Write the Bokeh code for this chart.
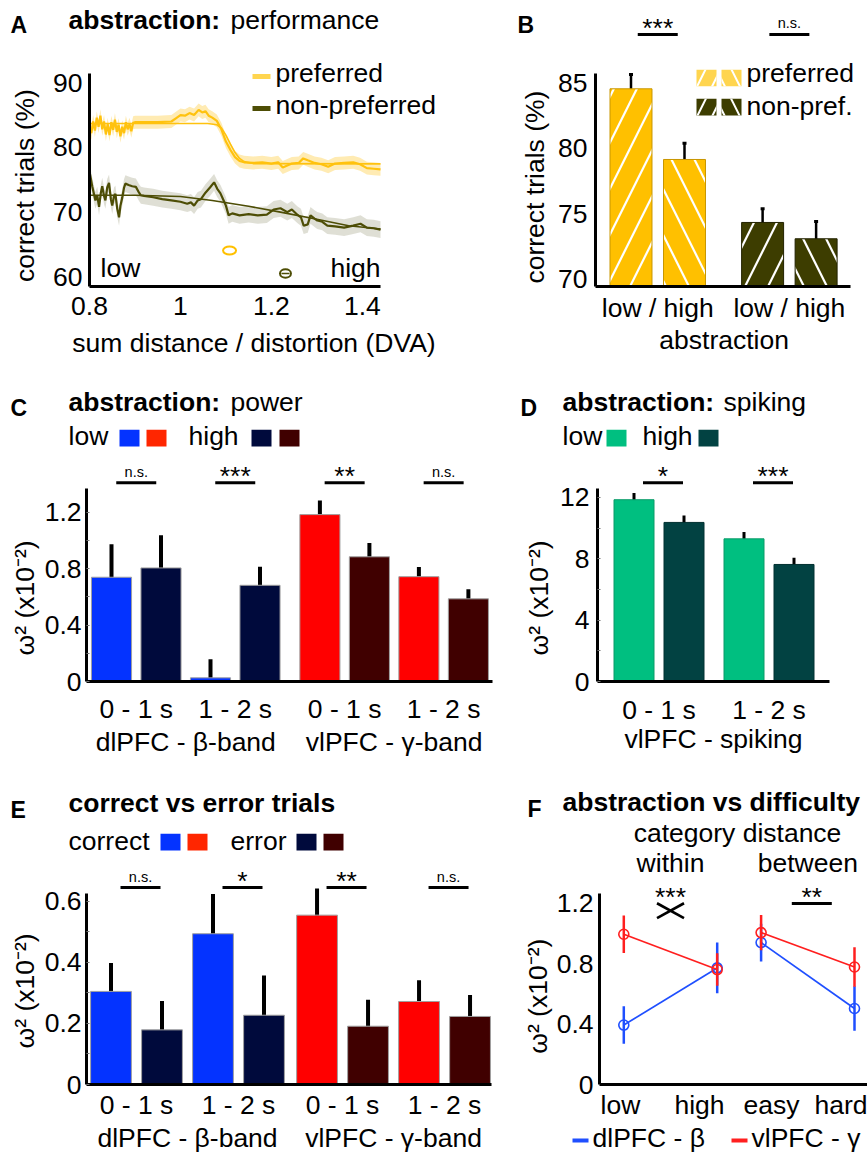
import numpy as np
from bokeh.plotting import figure
from bokeh.models import (Label, FixedTicker, NumeralTickFormatter, Range1d,
                          Whisker, TeeHead, ColumnDataSource, CustomJSTickFormatter)
from bokeh.layouts import column, row
from bokeh.embed import file_html
from bokeh.resources import INLINE

FONT = "Liberation Sans"
FS = 26.5
FS_NS = 14.5
FS_LETTER = 23
NB = "\u00a0"

# ======================= DATA =======================
# ---- A: performance vs sum distance / distortion (DVA)
pref_x = [0.800, 0.804, 0.808, 0.812, 0.816, 0.820, 0.824, 0.828, 0.832, 0.836,
          0.840, 0.844, 0.848, 0.852, 0.856, 0.860, 0.864, 0.868, 0.872, 0.876,
          0.880, 0.884, 0.888, 0.892, 0.896, 0.900, 0.920, 0.950, 0.980, 0.990,
          1.000, 1.010, 1.020, 1.030, 1.040, 1.048, 1.055, 1.062, 1.070, 1.080,
          1.090, 1.100, 1.110, 1.120, 1.130, 1.140, 1.160, 1.180, 1.200, 1.215,
          1.225, 1.235, 1.245, 1.260, 1.270, 1.280, 1.295, 1.310, 1.325, 1.340,
          1.360, 1.380, 1.395, 1.410, 1.425, 1.440]
pref_y = [83.0, 82.2, 84.0, 82.6, 84.6, 83.2, 84.9, 82.8, 84.0, 82.0,
          83.6, 81.9, 83.9, 82.7, 84.3, 82.4, 83.5, 81.7, 83.2, 82.2,
          83.9, 82.8, 83.6, 82.5, 83.8, 83.9, 83.9, 83.9, 84.0, 84.5,
          85.0, 84.9, 85.3, 85.0, 85.8, 85.4, 85.6, 84.9, 84.6, 84.1,
          82.8, 80.9, 79.6, 78.5, 77.9, 77.7, 77.6, 77.7, 77.5, 77.7,
          76.9, 77.2, 77.5, 77.6, 78.3, 78.0, 77.6, 77.4, 77.0, 77.5,
          77.6, 77.7, 77.4, 76.8, 76.7, 76.6]
pref_fit_x = [0.80, 1.06, 1.08, 1.09, 1.10, 1.11, 1.12, 1.13, 1.14, 1.16, 1.44]
pref_fit_y = [83.7, 83.7, 83.5, 83.0, 81.9, 80.5, 79.2, 78.3, 77.8, 77.5, 77.45]

nonpref_x = [0.800, 0.806, 0.813, 0.817, 0.821, 0.825, 0.828, 0.832, 0.835, 0.839,
             0.843, 0.847, 0.850, 0.854, 0.857, 0.861, 0.865, 0.868, 0.872, 0.876,
             0.879, 0.886, 0.894, 0.902, 0.909, 0.913, 0.920, 0.940, 0.960, 0.980,
             1.000, 1.015, 1.023, 1.030, 1.038, 1.045, 1.055, 1.065, 1.074, 1.081,
             1.088, 1.095, 1.100, 1.106, 1.114, 1.130, 1.150, 1.170, 1.190, 1.205,
             1.220, 1.235, 1.245, 1.257, 1.265, 1.271, 1.280, 1.286, 1.295, 1.301,
             1.312, 1.323, 1.340, 1.360, 1.380, 1.396, 1.410, 1.425, 1.440]
nonpref_y = [76.3, 74.0, 71.8, 72.6, 70.8, 73.0, 74.0, 72.5, 71.8, 73.8,
             74.5, 72.0, 71.0, 72.5, 72.8, 70.5, 69.2, 71.0, 72.2, 73.8,
             74.4, 74.2, 74.0, 73.9, 73.0, 72.6, 72.5, 72.3, 72.0, 71.8,
             71.6, 71.3, 71.5, 71.0, 71.8, 72.0, 73.0, 73.8, 74.6, 73.6,
             72.9, 71.8, 71.0, 69.5, 69.8, 69.5, 69.7, 69.5, 69.6, 70.4,
             70.6, 70.0, 70.4, 69.6, 69.2, 67.9, 68.1, 69.5, 69.0, 68.7,
             68.5, 67.9, 67.8, 67.6, 67.9, 68.2, 67.6, 67.5, 67.3]
nonpref_fit_x = [0.80, 0.90, 1.00, 1.07, 1.15, 1.22, 1.30, 1.37, 1.44]
nonpref_fit_y = [72.6, 72.6, 72.4, 71.8, 70.9, 70.0, 68.9, 67.9, 67.4]
pref_band = 1.0
nonpref_band = 1.3
pref_midpoint = 1.108
nonpref_midpoint = 1.231
a_xticks = [0.8, 1.0, 1.2, 1.4]
a_yticks = [60, 70, 80, 90]

# ---- B: correct trials per abstraction level
b_groups = ["preferred", "non-pref."]
b_levels = ["low", "high"]
b_pref = [84.57, 79.15]
b_pref_err = [1.09, 1.25]
b_nonpref = [74.32, 73.07]
b_nonpref_err = [1.06, 1.32]
b_sig = ["***", "n.s."]
b_yticks = [70, 75, 80, 85]

# ---- C: abstraction, LFP power
c_windows = ["0 - 1 s", "1 - 2 s", "0 - 1 s", "1 - 2 s"]
c_regions = ["dlPFC - β-band", "vlPFC - γ-band"]
c_low = [0.739, 0.026, 1.183, 0.743]
c_low_err = [0.233, 0.132, 0.100, 0.068]
c_high = [0.805, 0.682, 0.884, 0.586]
c_high_err = [0.232, 0.132, 0.098, 0.068]
c_sig = ["n.s.", "***", "**", "n.s."]
c_yticks = [0, 0.4, 0.8, 1.2]
c_yminor = [0.2, 0.6, 1.0]

# ---- D: abstraction, spiking
d_windows = ["0 - 1 s", "1 - 2 s"]
d_region = "vlPFC - spiking"
d_low = [11.85, 9.30]
d_low_err = [0.43, 0.44]
d_high = [10.37, 7.63]
d_high_err = [0.45, 0.44]
d_sig = ["*", "***"]
d_yticks = [0, 4, 8, 12]
d_yminor = [2, 6, 10]

# ---- E: correct vs error trials
e_windows = ["0 - 1 s", "1 - 2 s", "0 - 1 s", "1 - 2 s"]
e_regions = ["dlPFC - β-band", "vlPFC - γ-band"]
e_correct = [0.305, 0.494, 0.555, 0.272]
e_correct_err = [0.093, 0.130, 0.087, 0.070]
e_error = [0.179, 0.227, 0.191, 0.223]
e_error_err = [0.095, 0.130, 0.087, 0.070]
e_sig = ["n.s.", "*", "**", "n.s."]
e_yticks = [0, 0.2, 0.4, 0.6]
e_yminor = [0.1, 0.3, 0.5]

# ---- F: abstraction vs difficulty
f_conditions = ["low", "high", "easy", "hard"]
f_dl = [0.394, 0.773, 0.941, 0.504]
f_dl_err = [0.124, 0.168, 0.125, 0.148]
f_vl = [0.996, 0.762, 1.007, 0.779]
f_vl_err = [0.124, 0.108, 0.117, 0.131]
f_sig = ["***", "**"]
f_yticks = [0, 0.4, 0.8, 1.2]

# ======================= STYLE =======================
YEL = "#FFC000"
YEL_LINE = "#FFC20E"
YEL_LEG = "#FFD54F"
YEL_BAND = "#FFEBB3"
OLV = "#3D3D00"
OLV_LINE = "#4D4D05"
OLV_BAND = "#DCDCD0"
BLUE = "#0433FF"
NAVY = "#000A3C"
RED = "#FF0000"
RED_LEG = "#FF2600"
DRED = "#400000"
GREEN = "#00BF80"
TEAL = "#024242"
F_BLUE = "#1F4FFF"
F_RED = "#FF1F1F"
YLAB = "ω\u00b2 (x10\u207b\u00b2)"


def px(v):
    return f"{v}px"


def no_align(fig):
    try:
        fig.frame_align = False
    except AttributeError:
        pass


class Panel:
    """Geometry in page pixels; xref / yref = (value, pixel, pixels per unit)."""

    def __init__(self, box, frame, xref, yref, header=None, footer=None):
        self.box, self.frame = box, frame
        self.hb, self.fb = header, footer
        self.xv0, self.xp0, self.kx = xref
        self.yv0, self.yp0, self.ky = yref
        l, t, r, b = box
        fl, ftop, fr, fbot = frame
        mt = header if header is not None else t
        mb = footer if footer is not None else b
        p = figure(width=r - l, height=mb - mt,
                   x_range=Range1d(self.X(fl), self.X(fr)),
                   y_range=Range1d(self.Y(fbot), self.Y(ftop)),
                   output_backend="svg", toolbar_location=None, title=None,
                   min_border_left=fl - l, min_border_right=r - fr,
                   min_border_top=ftop - mt, min_border_bottom=mb - fbot)
        no_align(p)
        p.outline_line_color = None
        p.xgrid.visible = False
        p.ygrid.visible = False
        p.background_fill_color = "white"
        p.border_fill_color = "white"
        for ax in (p.xaxis[0], p.yaxis[0]):
            ax.axis_line_width = 3
            ax.axis_line_color = "black"
            ax.major_tick_in = 0
            ax.major_tick_out = 0
            ax.minor_tick_in = 0
            ax.minor_tick_out = 0
            ax.major_tick_line_color = "#777777"
            ax.minor_tick_line_color = "#777777"
            ax.major_label_text_font = FONT
            ax.major_label_text_font_size = px(FS)
            ax.major_label_text_color = "black"
            ax.axis_label_text_font = FONT
            ax.axis_label_text_font_size = px(FS)
            ax.axis_label_text_font_style = "normal"
            ax.axis_label_text_color = "black"
        self.p = p
        self.h = self._strip(t, header) if header is not None else None
        self.f = self._strip(footer, b) if footer is not None else None

    def _strip(self, top, bottom):
        l, _, r, _ = self.box
        s = figure(width=r - l, height=bottom - top,
                   x_range=Range1d(self.X(l), self.X(r)),
                   y_range=Range1d(self.Y(bottom), self.Y(top)),
                   x_axis_type=None, y_axis_type=None,
                   output_backend="svg", toolbar_location=None, title=None,
                   min_border_left=0, min_border_right=0, min_border_top=0, min_border_bottom=0)
        no_align(s)
        s.outline_line_color = None
        s.background_fill_color = "white"
        s.border_fill_color = "white"
        return s

    def X(self, v):
        return self.xv0 + (v - self.xp0) / self.kx

    def Y(self, v):
        return self.yv0 - (v - self.yp0) / self.ky

    def DX(self, n):
        return n / self.kx

    def fig_for(self, py):
        if self.h is not None and py < self.hb:
            return self.h
        if self.f is not None and py > self.fb:
            return self.f
        return self.p

    def label(self, x, py, s, size=FS, bold=False, align="left", color="black"):
        y_draw = py - 0.333 * size
        fig = self.fig_for(py - 0.35 * size)
        fig.add_layout(Label(x=x, y=self.Y(y_draw), text=s, text_font=FONT, text_font_size=px(size),
                             text_font_style="bold" if bold else "normal",
                             text_align=align, text_baseline="alphabetic", text_color=color))

    def text(self, pxx, py, s, **kw):
        self.label(self.X(pxx), py, s, **kw)

    def swatches(self, lefts, top, bottom, colors, width=20, **kw):
        self.fig_for(top).quad(left=[self.X(l) for l in lefts], right=[self.X(l + width) for l in lefts],
                               top=[self.Y(top)] * len(lefts), bottom=[self.Y(bottom)] * len(lefts),
                               fill_color=colors, line_color=None, **kw)

    def sig(self, centers, labels, bar_py, star_base, ns_base, offset=0, half=20):
        cs = [c + self.DX(offset) for c in centers]
        self.fig_for(bar_py).segment(x0=[c - self.DX(half) for c in cs], y0=[self.Y(bar_py)] * len(cs),
                                     x1=[c + self.DX(half) for c in cs], y1=[self.Y(bar_py)] * len(cs),
                                     line_color="black", line_width=3)
        for c, s in zip(cs, labels):
            if s.startswith("*"):
                self.label(c, star_base, s, size=FS, align="center")
            else:
                self.label(c, ns_base, s, size=FS_NS, align="center")

    def layout(self):
        return column([f for f in (self.h, self.p, self.f) if f is not None])


def whiskers(p, x, v, e, width, color="black", heads=False):
    src = ColumnDataSource(dict(x=x, lo=[a - b for a, b in zip(v, e)], hi=[a + b for a, b in zip(v, e)]))
    if heads:
        kw = dict(upper_head=TeeHead(size=4, line_width=3, line_color=color),
                  lower_head=TeeHead(size=4, line_width=3, line_color=color))
    else:
        kw = dict(upper_head=None, lower_head=None)
    p.add_layout(Whisker(base="x", lower="lo", upper="hi", source=src, dimension="height",
                         line_color=color, line_width=width, **kw))


def labels_formatter(labels):
    return CustomJSTickFormatter(args=dict(labels=labels), code="return labels[index] ?? '';")


# ======================= PANEL A =======================
PA = Panel(box=(0, 0, 440, 365), frame=(89, 40, 440, 286), header=40, footer=327,
           xref=(0.8, 89, 454.7), yref=(75.0, 179.25, 6.47))
pA = PA.p
pA.xaxis.ticker = FixedTicker(ticks=a_xticks)
pA.xaxis.formatter = NumeralTickFormatter(format="0.[0]")
pA.xaxis.bounds = (PA.X(89), PA.X(380))
pA.yaxis.ticker = FixedTicker(ticks=a_yticks)
pA.yaxis.bounds = (PA.Y(286), PA.Y(73))
pA.xaxis.major_label_standoff = 10
pA.yaxis.major_label_standoff = 7
pA.yaxis.axis_label = "correct trials (%)" + NB * 6
pA.yaxis.axis_label_standoff = 10

pA.varea(x=pref_x, y1=[v - pref_band for v in pref_y], y2=[v + pref_band for v in pref_y],
         fill_color=YEL_BAND)
pA.varea(x=nonpref_x, y1=[v - nonpref_band for v in nonpref_y],
         y2=[v + nonpref_band for v in nonpref_y], fill_color=OLV_BAND, fill_alpha=0.9)
pA.line(pref_x, pref_y, line_color=YEL_LINE, line_width=2.2)
pA.line(pref_fit_x, pref_fit_y, line_color=YEL_LINE, line_width=1.6)
pA.line(nonpref_x, nonpref_y, line_color=OLV_LINE, line_width=2.2)
pA.line(nonpref_fit_x, nonpref_fit_y, line_color=OLV_LINE, line_width=1.6)
pA.ellipse(x=[pref_midpoint], y=[PA.Y(250)], width=PA.DX(13), height=8 / PA.ky,
           fill_color=None, line_color=YEL, line_width=2)
pA.ellipse(x=[nonpref_midpoint], y=[PA.Y(273)], width=PA.DX(11), height=8.5 / PA.ky,
           fill_color=None, line_color=OLV_LINE, line_width=2)
pA.segment(x0=[nonpref_midpoint - PA.DX(4)], y0=[PA.Y(273)], x1=[nonpref_midpoint + PA.DX(4)],
           y1=[PA.Y(273)], line_color=OLV_LINE, line_width=1.6)
pA.segment(x0=[PA.X(252)] * 2, y0=[PA.Y(76), PA.Y(108)], x1=[PA.X(270)] * 2,
           y1=[PA.Y(76), PA.Y(108)], line_color=[YEL_LEG, OLV_LINE], line_width=5)
PA.text(275, 81.7, "preferred")
PA.text(275, 113, "non-preferred")
PA.text(100, 276.7, "low")
PA.text(380, 276.7, "high", align="right")
PA.text(253.5, 351.5, "sum distance / distortion (DVA)", align="center")
PA.text(10, 31.7, "A", size=FS_LETTER, bold=True)
PA.text(68, 28.3, "abstraction:", bold=True)
PA.text(230, 28.3, "performance")

# ======================= PANEL B =======================
b_gap = 2.46
PB = Panel(box=(440, 0, 867, 365), frame=(595, 43, 867, 286), header=43,
           xref=(0.0, 630.5, 53.5), yref=(77.5, 180.5, 13.04))
pB = PB.p
b_x = [b_gap * g + c for g in range(len(b_groups)) for c in range(len(b_levels))]
b_vals = b_pref + b_nonpref
b_errs = b_pref_err + b_nonpref_err
b_centers = [round(b_gap * g + 0.5, 3) for g in range(len(b_groups))]
b_base = PB.Y(286)
pB.vbar(x=b_x, top=b_vals, bottom=b_base, width=0.785,
        fill_color=[YEL, YEL, OLV, OLV], line_color=["#C89600", "#C89600", "#222200", "#222200"],
        line_width=1, hatch_pattern=["/", "\\", "/", "\\"], hatch_color="white",
        hatch_weight=2.2, hatch_scale=46)
whiskers(pB, b_x, b_vals, b_errs, 2.5, heads=True)
pB.xaxis.ticker = FixedTicker(ticks=b_centers)
pB.xaxis.formatter = labels_formatter(["low / high"] * len(b_groups))
pB.xaxis.bounds = (PB.X(595), PB.X(850))
pB.xaxis.major_label_standoff = 6
pB.xaxis.axis_label = "abstraction" + NB * 2
pB.xaxis.axis_label_standoff = -1
pB.yaxis.ticker = FixedTicker(ticks=b_yticks)
pB.yaxis.bounds = (PB.Y(286), PB.Y(73))
pB.yaxis.major_label_standoff = 8
pB.yaxis.axis_label = "correct trials (%)" + NB * 6
pB.yaxis.axis_label_standoff = 5
PB.sig(b_centers, b_sig, bar_py=34, star_base=36.3, ns_base=27.8)
PB.swatches([696, 721], 69.3, 85.7, [YEL_LEG, YEL_LEG], hatch_pattern=["/", "\\"],
            hatch_color="white", hatch_weight=2, hatch_scale=30)
PB.swatches([696, 721], 98.3, 115, [OLV, OLV], hatch_pattern=["/", "\\"],
            hatch_color="white", hatch_weight=2, hatch_scale=30)
PB.text(746, 81.7, b_groups[0])
PB.text(746, 114, b_groups[1])
PB.text(517, 31.7, "B", size=FS_LETTER, bold=True)

# ======================= PANEL C =======================
c_gap = 0.21
PC = Panel(box=(0, 365, 505, 765), frame=(86, 455, 492, 682), header=455, footer=726,
           xref=(0.0, 111, 49.5), yref=(0.0, 682, 141.7))
pC = PC.p
c_xl = [round(2 * k + c_gap * (k // 2), 3) for k in range(4)]
c_xh = [round(x + 1, 3) for x in c_xl]
c_centers = [round(x + 0.5, 3) for x in c_xl]
pC.vbar(x=c_xl, top=c_low, bottom=0, width=0.81, fill_color=[BLUE, BLUE, RED, RED],
        line_color="#A0A0A0", line_width=1)
pC.vbar(x=c_xh, top=c_high, bottom=0, width=0.81, fill_color=[NAVY, NAVY, DRED, DRED],
        line_color="#A0A0A0", line_width=1)
whiskers(pC, c_xl, c_low, c_low_err, 4)
whiskers(pC, c_xh, c_high, c_high_err, 4)
pC.xaxis.ticker = FixedTicker(ticks=c_centers)
pC.xaxis.formatter = labels_formatter(c_windows)
pC.xaxis.major_label_standoff = 12
pC.yaxis.ticker = FixedTicker(ticks=c_yticks, minor_ticks=c_yminor)
pC.yaxis.formatter = NumeralTickFormatter(format="0.[0]")
pC.yaxis.bounds = (0, PC.Y(488))
pC.yaxis.major_tick_in = 3
pC.yaxis.minor_tick_in = 3
pC.yaxis.major_label_standoff = 5
pC.yaxis.axis_label = YLAB + NB * 8
pC.yaxis.axis_label_standoff = 2
for r, name in enumerate(c_regions):
    PC.label((c_xl[2 * r] + c_xh[2 * r + 1]) / 2, 750.5, name, align="center")
PC.sig(c_centers, c_sig, bar_py=482.3, star_base=484.3, ns_base=476.3)
PC.swatches([119, 146, 251, 279], 429.3, 446, [BLUE, RED_LEG, NAVY, DRED])
PC.text(68, 444, "low")
PC.text(188, 444, "high")
PC.text(10, 415, "C", size=FS_LETTER, bold=True)
PC.text(68, 410, "abstraction:", bold=True)
PC.text(230, 410, "power")

# ======================= PANEL D =======================
d_gap = 2.2
PD = Panel(box=(505, 365, 867, 765), frame=(597, 455, 829, 681), header=455,
           xref=(0.0, 633.5, 50), yref=(0.0, 681, 15.34))
pD = PD.p
d_xl = [round(d_gap * k, 3) for k in range(len(d_windows))]
d_xh = [round(x + 1, 3) for x in d_xl]
d_centers = [round(x + 0.5, 3) for x in d_xl]
pD.vbar(x=d_xl, top=d_low, bottom=0, width=0.8, fill_color=GREEN, line_color="#0A9A68", line_width=1)
pD.vbar(x=d_xh, top=d_high, bottom=0, width=0.8, fill_color=TEAL, line_color="#013030", line_width=1)
whiskers(pD, d_xl, d_low, d_low_err, 3)
whiskers(pD, d_xh, d_high, d_high_err, 3)
pD.xaxis.ticker = FixedTicker(ticks=d_centers)
pD.xaxis.formatter = labels_formatter(d_windows)
pD.xaxis.major_label_standoff = 13
pD.xaxis.axis_label = d_region
pD.xaxis.axis_label_standoff = -4
pD.yaxis.ticker = FixedTicker(ticks=d_yticks, minor_ticks=d_yminor)
pD.yaxis.bounds = (0, PD.Y(488))
pD.yaxis.major_tick_in = 3
pD.yaxis.minor_tick_in = 3
pD.yaxis.major_label_standoff = 8
pD.yaxis.axis_label = YLAB + NB * 8
pD.yaxis.axis_label_standoff = 3
PD.sig(d_centers, d_sig, bar_py=482.3, star_base=484.3, ns_base=476.3, offset=4)
PD.swatches([606, 698], 429.3, 446, [GREEN, TEAL])
PD.text(562, 444, "low")
PD.text(642, 444, "high")
PD.text(520, 415, "D", size=FS_LETTER, bold=True)
PD.text(562, 410, "abstraction:", bold=True)
PD.text(723, 410, "spiking")

# ======================= PANEL E =======================
e_gap = 0.04
PE = Panel(box=(0, 765, 505, 1153), frame=(86, 860, 491, 1086), header=860, footer=1122,
           xref=(0.0, 110.5, 51), yref=(0.0, 1086, 307.9))
pE = PE.p
e_xc = [round(2 * k + e_gap * (k // 2), 3) for k in range(4)]
e_xe = [round(x + 1, 3) for x in e_xc]
e_centers = [round(x + 0.5, 3) for x in e_xc]
pE.vbar(x=e_xc, top=e_correct, bottom=0, width=0.8, fill_color=[BLUE, BLUE, RED, RED],
        line_color="#A0A0A0", line_width=1)
pE.vbar(x=e_xe, top=e_error, bottom=0, width=0.8, fill_color=[NAVY, NAVY, DRED, DRED],
        line_color="#A0A0A0", line_width=1)
whiskers(pE, e_xc, e_correct, e_correct_err, 4)
whiskers(pE, e_xe, e_error, e_error_err, 4)
pE.xaxis.ticker = FixedTicker(ticks=e_centers)
pE.xaxis.formatter = labels_formatter(e_windows)
pE.xaxis.major_label_standoff = 5
pE.yaxis.ticker = FixedTicker(ticks=e_yticks, minor_ticks=e_yminor)
pE.yaxis.formatter = NumeralTickFormatter(format="0.[0]")
pE.yaxis.bounds = (0, PE.Y(893))
pE.yaxis.major_tick_in = 3
pE.yaxis.minor_tick_in = 3
pE.yaxis.major_label_standoff = 5
pE.yaxis.axis_label = YLAB + NB * 5
pE.yaxis.axis_label_standoff = 2
for r, name in enumerate(e_regions):
    PE.label((e_xc[2 * r] + e_xe[2 * r + 1]) / 2, 1146.7, name, align="center")
PE.sig(e_centers, e_sig, bar_py=887.3, star_base=890, ns_base=881.8, offset=4)
PE.swatches([160, 187, 296, 323], 833.3, 850, [BLUE, RED_LEG, NAVY, DRED])
PE.text(68, 849, "correct")
PE.text(230, 849, "error")
PE.text(10, 816.7, "E", size=FS_LETTER, bold=True)
PE.text(68, 811.7, "correct vs error trials", bold=True)

# ======================= PANEL F =======================
f_pair = 1.47
f_label_shift = [-3.3, -17.7, 10.3, -12.0]   # px offsets of the tick labels from their points
PF = Panel(box=(505, 765, 867, 1153), frame=(599, 878, 867, 1086), header=878, footer=1122,
           xref=(0.0, 623.3, 93.4), yref=(0.0, 1086, 152.3))
pF = PF.p
f_x = [round(k * f_pair + c, 3) for k in range(2) for c in range(2)]
for vals, errs, col in ((f_dl, f_dl_err, F_BLUE), (f_vl, f_vl_err, F_RED)):
    pF.multi_line(xs=[f_x[0:2], f_x[2:4]], ys=[vals[0:2], vals[2:4]], line_color=col, line_width=1.7)
    pF.segment(x0=f_x, y0=[v - e for v, e in zip(vals, errs)], x1=f_x,
               y1=[v + e for v, e in zip(vals, errs)], line_color=col, line_width=2.5)
    pF.scatter(f_x, vals, marker="circle", size=10, fill_color=None, line_color=col, line_width=1.6)
pF.xaxis.ticker = FixedTicker(ticks=[round(x + PF.DX(s), 4) for x, s in zip(f_x, f_label_shift)])
pF.xaxis.formatter = labels_formatter(f_conditions)
pF.xaxis.major_label_standoff = 5
pF.yaxis.ticker = FixedTicker(ticks=f_yticks)
pF.yaxis.formatter = NumeralTickFormatter(format="0.[0]")
pF.yaxis.bounds = (0, PF.Y(893))
pF.yaxis.major_label_standoff = 6
pF.yaxis.axis_label = YLAB + NB * 4
pF.yaxis.axis_label_standoff = 1
f_within = (f_x[0] + f_x[1]) / 2
f_between = (f_x[2] + f_x[3]) / 2
pF.segment(x0=[f_within - PF.DX(13.5)] * 2, y0=[PF.Y(903), PF.Y(918)],
           x1=[f_within + PF.DX(13.5)] * 2, y1=[PF.Y(918), PF.Y(903)],
           line_color="black", line_width=2.6)
PF.label(f_within, 905.3, f_sig[0], align="center")
PF.sig([f_between], [f_sig[1]], bar_py=903.3, star_base=905.3, ns_base=897, offset=4)
PF.text(737, 841.7, "category distance", align="center")
PF.label(f_within, 871.5, "within", align="center")
PF.label(f_between, 871.5, "between", align="center")
PF.text(527, 816, "F", size=FS_LETTER, bold=True)
PF.text(562, 810.7, "abstraction vs difficulty", bold=True)
PF.f.segment(x0=[PF.X(572), PF.X(731)], y0=[PF.Y(1140)] * 2, x1=[PF.X(588), PF.X(747)],
             y1=[PF.Y(1140)] * 2, line_color=[F_BLUE, F_RED], line_width=4)
PF.text(592, 1146.7, "dlPFC - β")
PF.text(751, 1146.7, "vlPFC - γ")

layout = column(row(PA.layout(), PB.layout()), row(PC.layout(), PD.layout()),
                row(PE.layout(), PF.layout()))
open("out.html", "w").write(file_html(layout, INLINE, title="abstraction figure"))
